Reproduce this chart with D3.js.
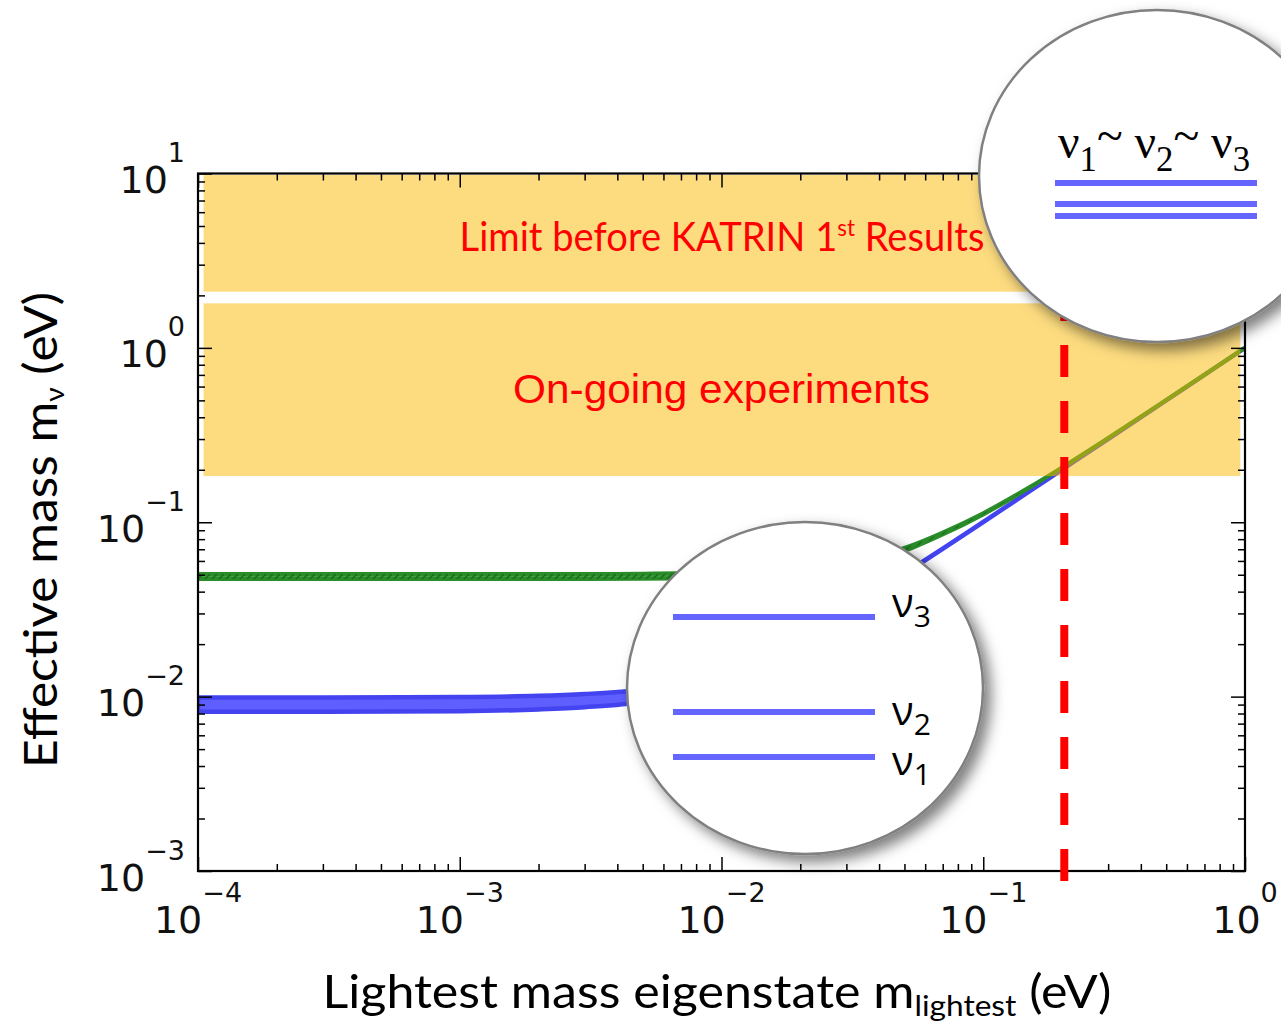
<!DOCTYPE html>
<html>
<head>
<meta charset="utf-8">
<style>
body { margin: 0; background: #fff; }
svg { display: block; }
</style>
</head>
<body>
<script src="https://d3js.org/d3.v7.min.js"></script>
<script>
// ---- data ----
// lightest neutrino mass (eV)
const mLightest = [1e-4, 3e-4, 1e-3, 2e-3, 3e-3, 5e-3, 7e-3, 0.01, 0.02, 0.03, 0.05, 0.07, 0.1, 0.15, 0.2, 0.3, 0.5, 0.7, 1.0];
// normal ordering band (blue), effective mass in eV
const normalLow  = [8.2e-3, 8.2e-3, 8.25e-3, 8.45e-3, 8.7e-3, 9.35e-3, 1.045e-2, 1.27e-2, 2.15e-2, 3.1e-2, 5.06e-2, 7.04e-2, 0.1003, 0.1502, 0.2002, 0.3001, 0.5, 0.7, 1.0];
const normalHigh = [9.9e-3, 9.9e-3, 9.95e-3, 1.01e-2, 1.035e-2, 1.1e-2, 1.2e-2, 1.4e-2, 2.23e-2, 3.15e-2, 5.09e-2, 7.06e-2, 0.1005, 0.1503, 0.2003, 0.3002, 0.5001, 0.7001, 1.0001];
// inverted ordering band (green)
const invertedLow  = [0.0472, 0.0472, 0.0472, 0.0472, 0.0472, 0.0474, 0.0476, 0.0481, 0.0511, 0.0556, 0.0684, 0.0850, 0.1109, 0.1575, 0.2056, 0.3037, 0.5022, 0.7016, 1.0011];
const invertedHigh = [0.0505, 0.0505, 0.0505, 0.0505, 0.0505, 0.0507, 0.0510, 0.0515, 0.0544, 0.0587, 0.0712, 0.0873, 0.1127, 0.1587, 0.2064, 0.3043, 0.5026, 0.7019, 1.0013];

// shaded limit regions: [x from, x to, m from, m to]
const bandNames = ["Limit before KATRIN 1st Results", "On-going experiments"];
const bandRanges = [[1.05e-4, 0.96, 2.1, 9.8], [1.05e-4, 0.96, 0.184, 1.8]];

// KATRIN sensitivity (eV)
const katrinSensitivity = 0.204;

// tick exponents
const xTickExps = [-4, -3, -2, -1, 0];
const yTickExps = [1, 0, -1, -2, -3];

// ---- setup ----
const width = 1281, height = 1027;
const svg = d3.select("body").append("svg")
    .attr("width", width)
    .attr("height", height)
    .style("background", "#fff");

const x = d3.scaleLog().domain([1e-4, 1]).range([198, 1245]);
const y = d3.scaleLog().domain([1e-3, 10]).range([871, 173.5]);

const defs = svg.append("defs");
defs.append("clipPath").attr("id", "plotclip")
  .append("rect")
    .attr("x", x.range()[0]).attr("y", y.range()[1])
    .attr("width", x.range()[1] - x.range()[0])
    .attr("height", y.range()[0] - y.range()[1]);

let hatch = defs.append("pattern")
    .attr("id", "hatch")
    .attr("patternUnits", "userSpaceOnUse")
    .attr("width", 7).attr("height", 7);
hatch.append("path")
    .attr("d", "M-1,8 L8,-1")
    .attr("stroke", "#176b17")
    .attr("stroke-width", 1.4);

let shadow = defs.append("filter").attr("id", "shadow")
    .attr("x", "-20%").attr("y", "-20%").attr("width", "150%").attr("height", "150%");
shadow.append("feDropShadow")
    .attr("dx", 7).attr("dy", 7)
    .attr("stdDeviation", 7)
    .attr("flood-color", "#000")
    .attr("flood-opacity", 0.5);

// ---- curves ----
function bandPath(lo, hi) {
    return d3.area()
        .x(d => x(d))
        .y0((d, i) => y(lo[i]))
        .y1((d, i) => y(hi[i]))
        .curve(d3.curveMonotoneX)(mLightest);
}

let curves = svg.append("g").attr("clip-path", "url(#plotclip)");
curves.append("path")
    .attr("d", bandPath(normalLow, normalHigh))
    .attr("fill", "#5f5fff")
    .attr("stroke", "#4343f0")
    .attr("stroke-width", 4.5)
    .attr("stroke-linejoin", "round");
curves.append("path")
    .attr("d", bandPath(invertedLow, invertedHigh))
    .attr("fill", "#3f9f3f")
    .attr("stroke", "#2a8d2a")
    .attr("stroke-width", 4)
    .attr("stroke-linejoin", "round");
curves.append("path")
    .attr("d", bandPath(invertedLow, invertedHigh))
    .attr("fill", "url(#hatch)");

// ---- limit bands ----
svg.append("g").selectAll("rect")
    .data(bandRanges)
    .join("rect")
    .attr("x", d => x(d[0]))
    .attr("width", d => x(d[1]) - x(d[0]))
    .attr("y", d => y(d[3]))
    .attr("height", d => y(d[2]) - y(d[3]))
    .attr("fill", "#fbb901")
    .attr("fill-opacity", 0.5);

// stretch a text group horizontally so it covers a given width
function fitWidth(g, w, base) {
    let bw = g.node().getBBox().width;
    g.attr("transform", base + " scale(" + (w / bw) + ",1)");
}

let b1 = svg.append("g").attr("transform", "translate(722,251)");
let b1t = b1.append("text")
    .attr("text-anchor", "middle")
    .attr("font-family", "Lato, 'Open Sans', sans-serif")
    .attr("font-size", 41)
    .attr("fill", "#ff0000");
b1t.append("tspan").text("Limit before KATRIN 1");
b1t.append("tspan").attr("font-size", 24).attr("dy", -15).text("st");
b1t.append("tspan").attr("dy", 15).text(" Results");
fitWidth(b1, 525, "translate(722,251)");

let b2 = svg.append("g").attr("transform", "translate(513,403)");
b2.append("text")
    .attr("font-family", "'Liberation Sans', Arial, sans-serif")
    .attr("font-size", 41)
    .attr("fill", "#ff0000")
    .text(bandNames[1]);
fitWidth(b2, 417, "translate(513,403)");

// ---- axes (ticks inward on all four sides) ----
const minor = (lo, hi) => d3.range(lo, hi).flatMap(e => d3.range(2, 10).map(k => k * Math.pow(10, e)));
const xMajor = xTickExps.map(e => Math.pow(10, e));
const yMajor = yTickExps.map(e => Math.pow(10, e));
const xMinor = minor(-4, 0);
const yMinor = minor(-3, 1);

function tickAxis(axisFn, scale, vals, size, tf) {
    let g = svg.append("g").attr("transform", tf)
        .call(axisFn(scale).tickValues(vals).tickSize(size).tickSizeOuter(0).tickFormat(""));
    g.select(".domain").remove();
    g.selectAll("line").attr("stroke", "#000").attr("stroke-width", 1.5);
}
const [xl, xr] = x.range();
const [yb, yt] = y.range();
tickAxis(d3.axisBottom, x, xMajor, -14, `translate(0,${yb})`);
tickAxis(d3.axisBottom, x, xMinor, -7, `translate(0,${yb})`);
tickAxis(d3.axisTop, x, xMajor, -14, `translate(0,${yt})`);
tickAxis(d3.axisTop, x, xMinor, -7, `translate(0,${yt})`);
tickAxis(d3.axisLeft, y, yMajor, -14, `translate(${xl},0)`);
tickAxis(d3.axisLeft, y, yMinor, -7, `translate(${xl},0)`);
tickAxis(d3.axisRight, y, yMajor, -14, `translate(${xr},0)`);
tickAxis(d3.axisRight, y, yMinor, -7, `translate(${xr},0)`);

svg.append("rect")
    .attr("x", xl).attr("y", yt)
    .attr("width", xr - xl).attr("height", yb - yt)
    .attr("fill", "none")
    .attr("stroke", "#000")
    .attr("stroke-width", 2.2);

const supText = e => (e < 0 ? "\u2212" + (-e) : String(e));

let xt = svg.append("g").selectAll("text")
    .data(xTickExps)
    .join("text")
    .attr("x", d => x(Math.pow(10, d)))
    .attr("y", yb + 62)
    .attr("text-anchor", "middle")
    .attr("font-family", "'DejaVu Sans', sans-serif")
    .attr("fill", "#111");
xt.append("tspan").attr("font-size", 38).text("10");
xt.append("tspan").attr("font-size", 27).attr("dy", -31).text(d => supText(d));

let yticks = svg.append("g").selectAll("text")
    .data(yTickExps)
    .join("text")
    .attr("x", 185)
    .attr("y", d => y(Math.pow(10, d)) + 19.5)
    .attr("text-anchor", "end")
    .attr("font-family", "'DejaVu Sans', sans-serif")
    .attr("fill", "#111");
yticks.append("tspan").attr("font-size", 38).text("10");
yticks.append("tspan").attr("font-size", 27).attr("dy", -31).text(d => supText(d));

// axis titles
let xTitle = svg.append("g");
let xtt = xTitle.append("text")
    .attr("text-anchor", "middle")
    .attr("font-family", "Lato, 'Open Sans', sans-serif")
    .attr("font-size", 46)
    .attr("fill", "#000");
xtt.append("tspan").text("Lightest mass eigenstate m");
xtt.append("tspan").attr("font-size", 29).attr("dy", 8).text("lightest");
xtt.append("tspan").attr("dy", -8).text(" (eV)");
fitWidth(xTitle, 789, "translate(717,1008)");

let yTitle = svg.append("g");
let ytt = yTitle.append("text")
    .attr("text-anchor", "middle")
    .attr("font-family", "Lato, 'Open Sans', sans-serif")
    .attr("font-size", 46)
    .attr("fill", "#000");
ytt.append("tspan").text("Effective mass m");
ytt.append("tspan").attr("font-size", 26).attr("dy", 7).text("\u03bd");
ytt.append("tspan").attr("dy", -7).text(" (eV)");
fitWidth(yTitle, 476, "translate(57,530) rotate(-90)");

// ---- KATRIN sensitivity line ----
svg.append("line")
    .attr("x1", x(katrinSensitivity)).attr("x2", x(katrinSensitivity))
    .attr("y1", yb + 10).attr("y2", yt)
    .attr("stroke", "#ff0000")
    .attr("stroke-width", 8)
    .attr("stroke-dasharray", "32 24");

// ---- zoom insets ----
const levelColor = "#6565ff";

function inset(cx, cy) {
    let g = svg.append("g").attr("transform", `translate(${cx},${cy})`);
    g.append("ellipse")
        .attr("rx", 178).attr("ry", 166)
        .attr("fill", "#fff")
        .attr("stroke", "#808080")
        .attr("stroke-width", 2.5)
        .attr("filter", "url(#shadow)");
    return g;
}

// normal ordering inset
let lowInset = inset(805, 688);
[[-71, "3", 0], [24, "2", 13], [69, "1", 18]].forEach(([dy, s, off]) => {
    lowInset.append("line")
        .attr("x1", -132).attr("x2", 70)
        .attr("y1", dy).attr("y2", dy)
        .attr("stroke", levelColor).attr("stroke-width", 6);
    let t = lowInset.append("text")
        .attr("x", 87).attr("y", dy + off)
        .attr("font-family", "'Open Sans', sans-serif")
        .attr("font-size", 40)
        .attr("fill", "#000");
    t.append("tspan").text("\u03bd");
    t.append("tspan").attr("font-size", 30).attr("dy", 10).text(s);
});

// quasi-degenerate inset
let topInset = inset(1157, 176);
[7, 28, 40].forEach(dy => {
    topInset.append("line")
        .attr("x1", -102).attr("x2", 100)
        .attr("y1", dy).attr("y2", dy)
        .attr("stroke", levelColor).attr("stroke-width", 6);
});
let tg = topInset.append("g");
let tt = tg.append("text")
    .attr("font-family", "'Liberation Serif', 'Times New Roman', serif")
    .attr("font-size", 48)
    .attr("fill", "#000");
tt.append("tspan").text("\u03bd");
["1", "2", "3"].forEach((s, i) => {
    tt.append("tspan").attr("font-size", 35).attr("dy", 13).text(s);
    if (i < 2) {
        tt.append("tspan").attr("dy", -19).text("~");
        tt.append("tspan").attr("dy", 6).text(" \u03bd");
    }
});
fitWidth(tg, 192, "translate(-99,-18)");
</script>
</body>
</html>
